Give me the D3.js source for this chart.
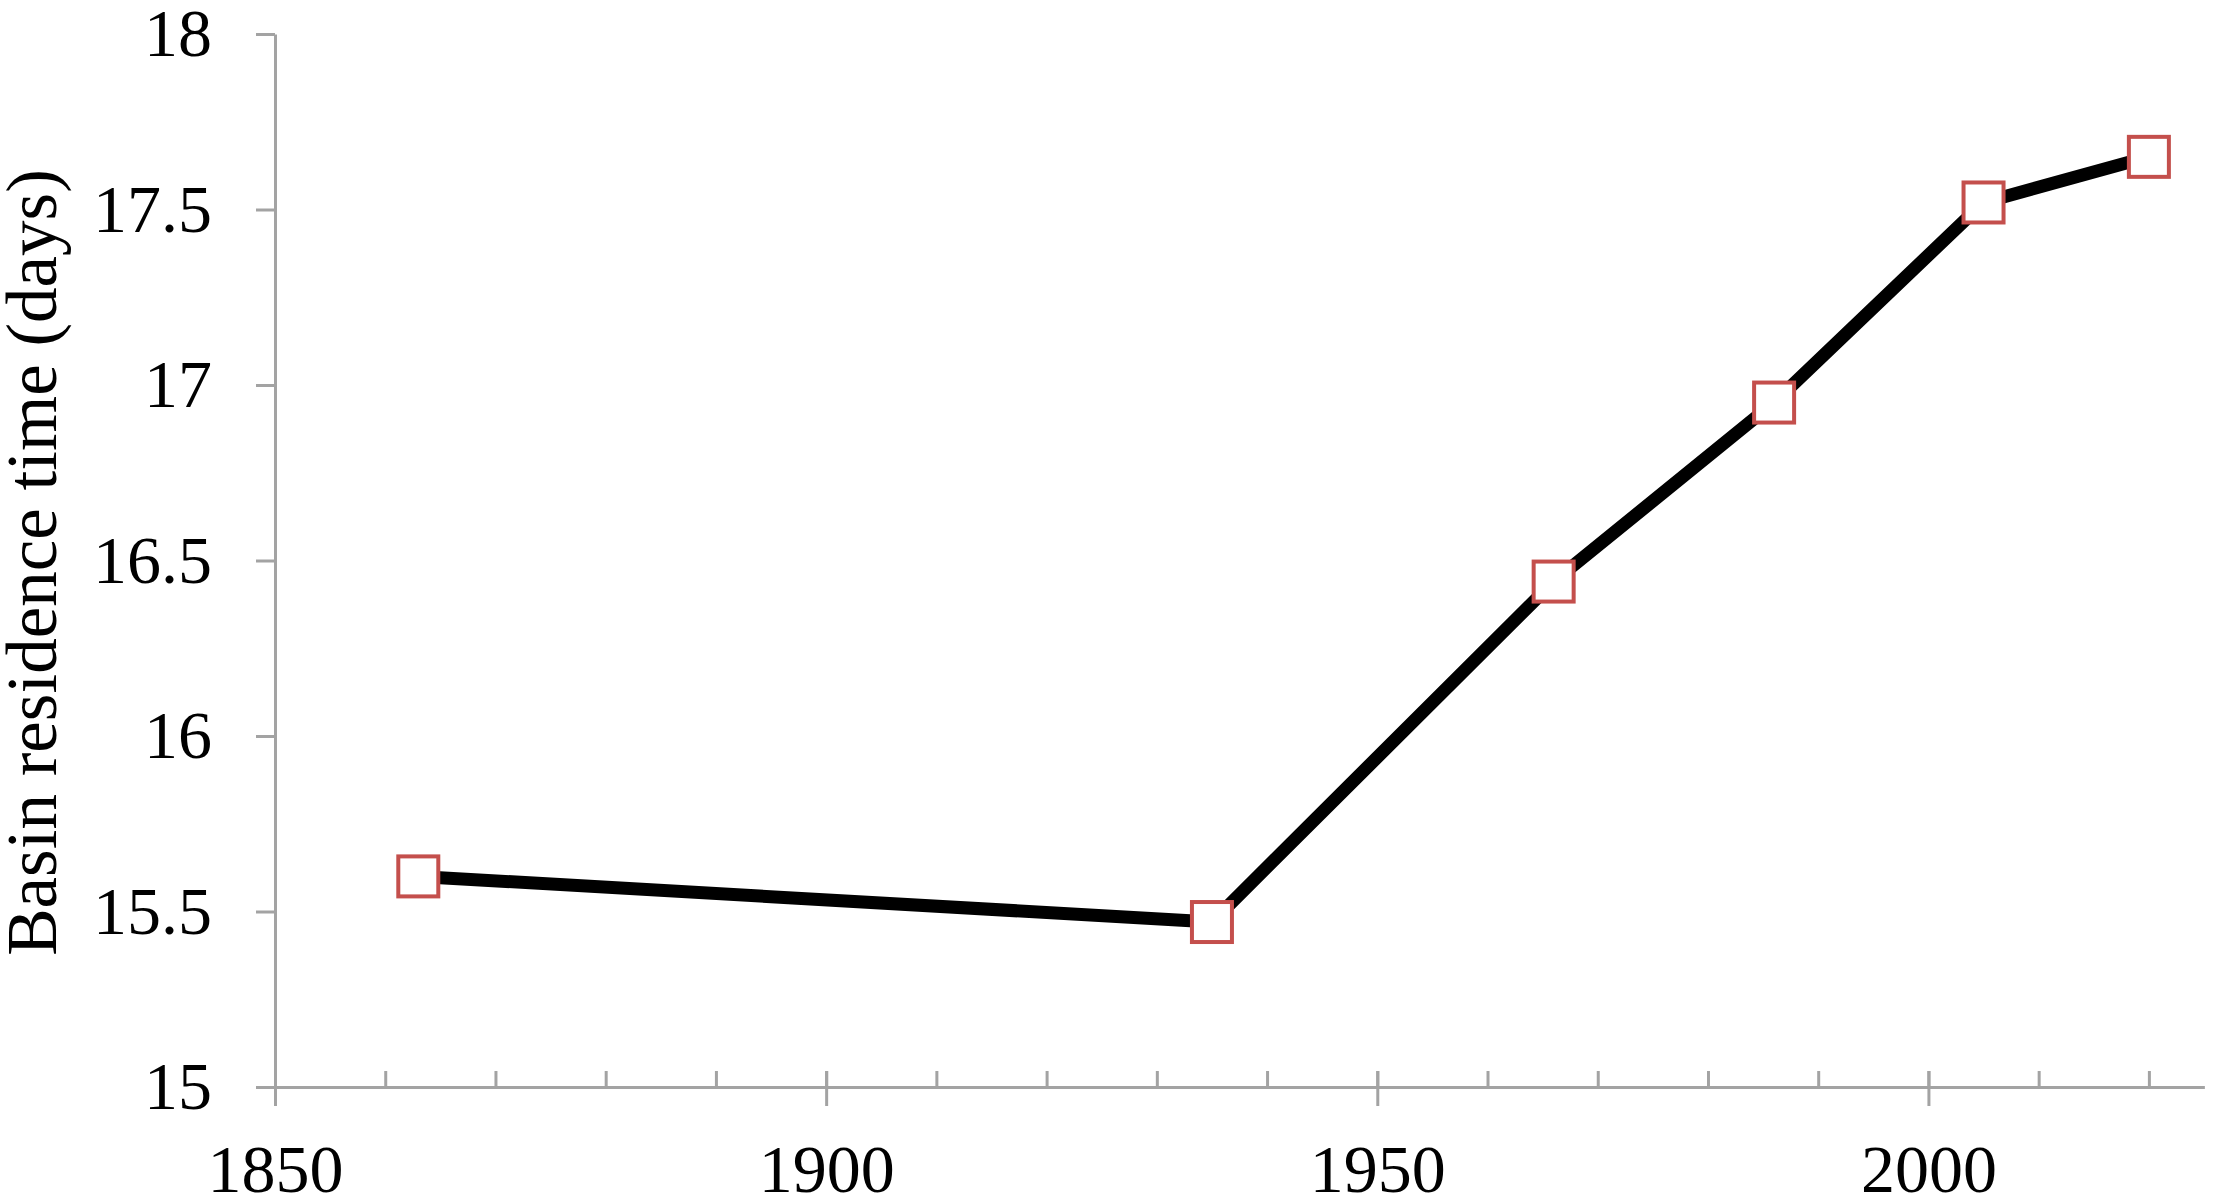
<!DOCTYPE html>
<html>
<head>
<meta charset="utf-8">
<script src="https://cdn.jsdelivr.net/npm/d3@7"></script>
<style>
  html, body { margin: 0; padding: 0; background: #ffffff; }
  svg { display: block; }
</style>
</head>
<body>
<script>
// ---- Data ----
const years = [1863, 1935, 1966, 1986, 2005, 2020];
const residenceDays = [15.60, 15.47, 16.44, 16.95, 17.52, 17.65];
const yTickValues = [15, 15.5, 16, 16.5, 17, 17.5, 18];
const yTickLabels = ["15", "15.5", "16", "16.5", "17", "17.5", "18"];
const xMajorTicks = [1850, 1900, 1950, 2000];
const xMajorLabels = ["1850", "1900", "1950", "2000"];
const xMinorTicks = [1860, 1870, 1880, 1890, 1900, 1910, 1920, 1930, 1940, 1950, 1960, 1970, 1980, 1990, 2000, 2010, 2020];
const yAxisTitle = "Basin residence time (days)";

// ---- Layout ----
const W = 2217, H = 1204;
const plotLeft = 275, plotRight = 2204, plotTop = 34, plotBottom = 1087;
const fontFamily = "'Liberation Serif', 'Times New Roman', serif";
const axisColor = "#a3a3a3";

const svg = d3.select("body").append("svg")
  .attr("width", W).attr("height", H)
  .attr("viewBox", `0 0 ${W} ${H}`);

const x = d3.scaleLinear().domain([1850, 2025]).range([plotLeft, plotRight]);
const y = d3.scaleLinear().domain([15, 18]).range([plotBottom, plotTop]);

// Y axis
const yAxis = svg.append("g")
  .attr("transform", `translate(${plotLeft},0)`)
  .call(d3.axisLeft(y)
    .tickValues(yTickValues)
    .tickFormat((d, i) => yTickLabels[i])
    .tickSizeInner(19).tickSizeOuter(0).tickPadding(44));

// X axis: minor ticks (inside, upward)
const xMinor = svg.append("g")
  .attr("transform", `translate(0,${plotBottom})`)
  .call(d3.axisBottom(x)
    .tickValues(xMinorTicks)
    .tickFormat("")
    .tickSizeInner(-16).tickSizeOuter(0));

// X axis: major ticks (cross) with labels
const xMajorUp = svg.append("g")
  .attr("transform", `translate(0,${plotBottom})`)
  .call(d3.axisBottom(x)
    .tickValues(xMajorTicks)
    .tickFormat("")
    .tickSizeInner(-16).tickSizeOuter(0));

const xMajor = svg.append("g")
  .attr("transform", `translate(0,${plotBottom})`)
  .call(d3.axisBottom(x)
    .tickValues(xMajorTicks)
    .tickFormat((d, i) => xMajorLabels[i])
    .tickSizeInner(19).tickSizeOuter(0).tickPadding(38));

[yAxis, xMinor, xMajorUp, xMajor].forEach(g => {
  g.selectAll("path.domain").attr("stroke", axisColor).attr("stroke-width", 3);
  g.selectAll(".tick line").attr("stroke", axisColor).attr("stroke-width", 3);
  g.selectAll(".tick text")
    .attr("fill", "#000")
    .style("font-family", fontFamily)
    .style("font-size", "68px");
});

// Y axis title
svg.append("text")
  .attr("transform", `translate(56,${(plotTop + plotBottom) / 2 + 2}) rotate(-90)`)
  .attr("text-anchor", "middle")
  .style("font-family", fontFamily)
  .style("font-size", "71px")
  .attr("fill", "#000")
  .text(yAxisTitle);

// Line
const points = years.map((yr, i) => ({ yr, v: residenceDays[i] }));
svg.append("path")
  .datum(points)
  .attr("fill", "none")
  .attr("stroke", "#000")
  .attr("stroke-width", 13)
  .attr("stroke-linejoin", "round")
  .attr("d", d3.line().x(d => x(d.yr)).y(d => y(d.v)));

// Markers
const ms = 40;
svg.selectAll("rect.marker")
  .data(points)
  .join("rect")
  .attr("class", "marker")
  .attr("x", d => x(d.yr) - ms / 2)
  .attr("y", d => y(d.v) - ms / 2)
  .attr("width", ms)
  .attr("height", ms)
  .attr("fill", "#fff")
  .attr("stroke", "#c44f4c")
  .attr("stroke-width", 4);
</script>
</body>
</html>
